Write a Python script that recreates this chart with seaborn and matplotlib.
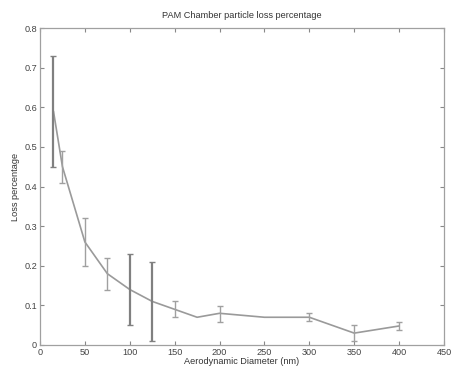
import matplotlib
matplotlib.use("Agg")
import matplotlib.pyplot as plt
import seaborn as sns
import pandas as pd
import numpy as np

diameter = [15, 25, 50, 75, 100, 125, 150, 175, 200, 250, 300, 350, 400]
loss = [0.59, 0.45, 0.26, 0.18, 0.14, 0.11, 0.09, 0.07, 0.08, 0.07, 0.07, 0.03, 0.048]
err_x = [15, 25, 50, 75, 100, 125, 150, 200, 300, 350, 400]
err_y = [0.59, 0.45, 0.26, 0.18, 0.14, 0.11, 0.09, 0.078, 0.07, 0.03, 0.048]
err_e = [0.14, 0.04, 0.06, 0.04, 0.09, 0.10, 0.02, 0.02, 0.01, 0.02, 0.01]
dark_bars = [15, 100, 125]
x_ticks = [0, 50, 100, 150, 200, 250, 300, 350, 400, 450]
y_ticks = [0, 0.1, 0.2, 0.3, 0.4, 0.5, 0.6, 0.7, 0.8]
y_tick_labels = ["0", "0.1", "0.2", "0.3", "0.4", "0.5", "0.6", "0.7", "0.8"]

sns.set_style("white")
plt.rcParams['font.family'] = ['Liberation Sans', 'DejaVu Sans']

fig = plt.figure(figsize=(4.52, 3.69), dpi=100)
ax = fig.add_axes([40/452, 24/369, 404/452, 317/369])

df = pd.DataFrame({"d": diameter, "loss": loss})
sns.lineplot(data=df, x="d", y="loss", ax=ax, color="#9a9a9a", linewidth=1.2)

for x, y, e in zip(err_x, err_y, err_e):
    dark = x in dark_bars
    ax.errorbar([x], [y], yerr=[e], fmt="none",
                ecolor="#808080" if dark else "#a0a0a0",
                elinewidth=1.6 if dark else 1.0, capsize=2.5, capthick=1.0)

ax.set_xlim(0, 450)
ax.set_ylim(0, 0.8)
ax.set_xticks(x_ticks)
ax.set_yticks(y_ticks)
ax.set_yticklabels(y_tick_labels)
ax.tick_params(direction="in", length=3, width=0.8, color="#888888",
               labelsize=6.6, labelcolor="#444444", top=True, right=True,
               bottom=True, left=True, pad=2)
for s in ax.spines.values():
    s.set_color("#a0a0a0")
    s.set_linewidth(0.9)

ax.set_xlabel("Aerodynamic Diameter (nm)", fontsize=6.6, color="#333333", labelpad=0)
ax.set_ylabel("Loss percentage", fontsize=6.6, color="#333333", labelpad=3)
ax.set_title("PAM Chamber particle loss percentage", fontsize=6.6, color="#333333", pad=7)

fig.savefig("out.png", dpi=100)
